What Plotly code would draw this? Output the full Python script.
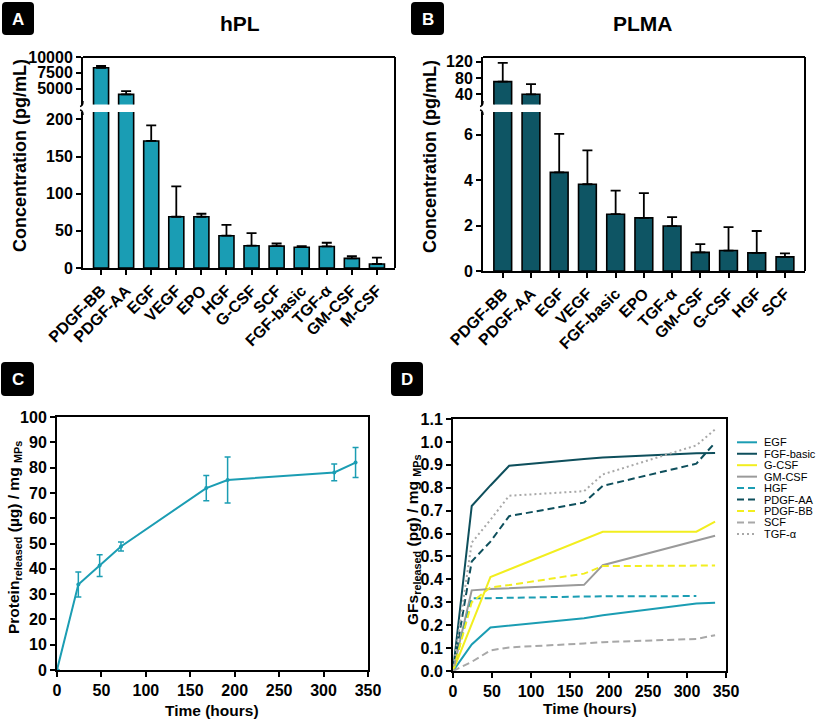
import plotly.graph_objects as go

W, H = 817, 720
def px(x): return x / W
def py(y): return 1 - y / H

FONT = "Arial, Liberation Sans, sans-serif"

# ---------------- data ----------------
hpl_names = ["PDGF-BB", "PDGF-AA", "EGF", "VEGF", "EPO", "HGF", "G-CSF", "SCF",
             "FGF-basic", "TGF-α", "GM-CSF", "M-CSF"]
hpl_vals = [8300, 4100, 171, 69, 69, 43.5, 30, 29.5, 28, 29, 13, 5.4]
hpl_err = [300, 500, 21, 41, 4, 14.5, 17, 3.5, 1.5, 5, 3, 8.6]
hpl_upper_ticks = [5000, 7500, 10000]
hpl_lower_ticks = [0, 50, 100, 150, 200]

plma_names = ["PDGF-BB", "PDGF-AA", "EGF", "VEGF", "FGF-basic", "EPO", "TGF-α",
              "GM-CSF", "G-CSF", "HGF", "SCF"]
plma_vals = [71, 40, 4.34, 3.82, 2.5, 2.34, 1.98, 0.82, 0.9, 0.8, 0.62]
plma_err = [46, 25, 1.7, 1.49, 1.04, 1.09, 0.39, 0.36, 1.03, 0.96, 0.16]
plma_upper_ticks = [40, 80, 120]
plma_lower_ticks = [0, 2, 4, 6]

prot_t = [0, 24, 48, 72, 168, 192, 312, 336]
prot_v = [0, 33.8, 41.3, 48.8, 71.9, 75.1, 78.1, 82.0]
prot_e = [0, 4.9, 4.3, 1.8, 5.0, 9.1, 3.3, 5.9]

gf_t = [0, 24, 48, 72, 168, 192, 312, 336]
gf_names = ["EGF", "FGF-basic", "G-CSF", "GM-CSF", "HGF", "PDGF-AA", "PDGF-BB", "SCF", "TGF-α"]
gf_EGF = [0, 0.116, 0.19, 0.198, 0.23, 0.243, 0.295, 0.298]
gf_FGF = [0, 0.72, 0.81, 0.896, 0.925, 0.932, 0.95, 0.952]
gf_GCSF = [0, 0.205, 0.41, 0.443, 0.575, 0.608, 0.608, 0.652]
gf_GMCSF = [0, 0.352, 0.358, 0.362, 0.376, 0.462, 0.57, 0.59]
gf_HGF = [0, 0.317, 0.318, 0.32, 0.325, 0.326, 0.327, None]
gf_PDGFAA = [0, 0.478, 0.565, 0.676, 0.735, 0.808, 0.905, 0.997]
gf_PDGFBB = [0, 0.3, 0.365, 0.375, 0.425, 0.458, 0.46, 0.46]
gf_SCF = [0, 0.04, 0.09, 0.103, 0.12, 0.126, 0.14, 0.156]
gf_TGFa = [0, 0.56, 0.66, 0.765, 0.785, 0.858, 0.985, 1.055]
gf_series = [gf_EGF, gf_FGF, gf_GCSF, gf_GMCSF, gf_HGF, gf_PDGFAA, gf_PDGFBB, gf_SCF, gf_TGFa]

TEAL = "#1B9DB3"
DARK = "#0E4F5C"
YEL = "#F2EE1F"
GRAY = "#9A9A9A"
LGRAY = "#A8A8A8"
gf_colors = [TEAL, DARK, YEL, GRAY, TEAL, DARK, YEL, LGRAY, LGRAY]
gf_dash = ["solid", "solid", "solid", "solid", "7px,4px", "7px,4px", "7px,4px", "7px,4px", "2px,3px"]

fig = go.Figure()

# ---------------- panel A ----------------
ia = list(range(len(hpl_names)))
for ya in ["y", "y2"]:
    fig.add_trace(go.Bar(x=ia, y=hpl_vals, xaxis="x", yaxis=ya, width=0.6,
                         marker=dict(color="#1A9DB4", line=dict(color="black", width=1.6)),
                         error_y=dict(type="data", array=hpl_err, arrayminus=[0]*len(ia),
                                      symmetric=False, color="black", thickness=1.8, width=5),
                         showlegend=False))
# ---------------- panel B ----------------
ib = list(range(len(plma_names)))
for yb in ["y3", "y4"]:
    fig.add_trace(go.Bar(x=ib, y=plma_vals, xaxis="x2", yaxis=yb, width=0.63,
                         marker=dict(color="#0E5564", line=dict(color="black", width=1.6)),
                         error_y=dict(type="data", array=plma_err, arrayminus=[0]*len(ib),
                                      symmetric=False, color="black", thickness=1.8, width=5),
                         showlegend=False))
# ---------------- panel C ----------------
fig.add_trace(go.Scatter(x=prot_t, y=prot_v, xaxis="x3", yaxis="y5", mode="lines+markers",
                         line=dict(color=TEAL, width=2), marker=dict(size=4, color=TEAL),
                         error_y=dict(type="data", array=prot_e, color=TEAL, thickness=1.5, width=3),
                         showlegend=False))
# ---------------- panel D ----------------
for name, ys, c, d in zip(gf_names, gf_series, gf_colors, gf_dash):
    fig.add_trace(go.Scatter(x=gf_t, y=ys, xaxis="x4", yaxis="y6", mode="lines", name=name,
                             line=dict(color=c, width=2, dash=d), showlegend=False))

tickfont = dict(family=FONT, size=16, color="black", weight="bold")
common = dict(showline=True, linecolor="black", linewidth=2, ticks="outside", ticklen=5,
              tickwidth=2, tickcolor="black", tickfont=tickfont, showgrid=False, zeroline=False,
              automargin=False)

fig.update_layout(
    width=W, height=H, margin=dict(l=0, r=0, t=0, b=0, pad=0, autoexpand=False),
    paper_bgcolor="white", plot_bgcolor="white", bargap=0.4, showlegend=False,
    xaxis=dict(domain=[px(83), px(395)], anchor="y", range=[-0.72, 11.72],
               tickvals=ia, ticktext=hpl_names, tickangle=-45, **common),
    yaxis=dict(domain=[py(268), py(112)], anchor="x", range=[0, 210],
               tickvals=hpl_lower_ticks, ticktext=[str(v) for v in hpl_lower_ticks], **common),
    yaxis2=dict(domain=[py(104.5), py(57)], anchor="x", range=[2500, 10000],
                tickvals=hpl_upper_ticks, ticktext=[str(v) for v in hpl_upper_ticks], **common),
    xaxis2=dict(domain=[px(483), px(805)], anchor="y3", range=[-0.7, 10.71],
                tickvals=ib, ticktext=plma_names, tickangle=-45, **common),
    yaxis3=dict(domain=[py(271), py(112)], anchor="x2", range=[0, 7],
                tickvals=plma_lower_ticks, **common),
    yaxis4=dict(domain=[py(104.5), py(57)], anchor="x2", range=[15, 131.5],
                tickvals=plma_upper_ticks, **common),
    xaxis3=dict(domain=[px(57), px(368)], anchor="y5", range=[0, 350], mirror=True,
                tickvals=list(range(0, 351, 50)), **common),
    yaxis5=dict(domain=[py(670), py(417)], anchor="x3", range=[0, 100], mirror=True,
                tickvals=list(range(0, 101, 10)), **common),
    xaxis4=dict(domain=[px(453), px(726)], anchor="y6", range=[0, 350], mirror=True,
                tickvals=list(range(0, 351, 50)), **common),
    yaxis6=dict(domain=[py(671), py(419)], anchor="x4", range=[0, 1.1], mirror=True,
                tickvals=[i / 10 for i in range(12)], tickformat=".1f", **common),
)

shapes = []
annots = []
def line(x0, y0, x1, y1, w=2, color="black", dash="solid"):
    shapes.append(dict(type="line", xref="paper", yref="paper", x0=px(x0), y0=py(y0),
                       x1=px(x1), y1=py(y1), line=dict(color=color, width=w, dash=dash)))
def text(x, y, s, size=16, bold=True, angle=0, color="black", xanchor="center"):
    annots.append(dict(x=px(x), y=py(y), xref="paper", yref="paper", text=s, showarrow=False,
                       textangle=angle, xanchor=xanchor, yanchor="middle",
                       font=dict(family=FONT, size=size, color=color,
                                 weight="bold" if bold else "normal")))

# frames A & B (top and right)
line(83, 57, 395, 57); line(395, 57, 395, 268)
line(483, 57, 805, 57); line(805, 57, 805, 271)
# break marks
for xl in (83, 483):
    shapes.append(dict(type="path", xref="paper", yref="paper",
                       path=f"M {px(xl)},{py(101)} Q {px(xl)},{py(106)} {px(xl-3)},{py(106.5)}",
                       line=dict(color="black", width=1.5)))
    shapes.append(dict(type="path", xref="paper", yref="paper",
                       path=f"M {px(xl-3)},{py(110)} Q {px(xl)},{py(110.5)} {px(xl)},{py(115)}",
                       line=dict(color="black", width=1.5)))

# panel letter boxes
def box(x0, y0, x1, y1, letter):
    r = 4
    p = (f"M {px(x0+r)},{py(y0)} L {px(x1-r)},{py(y0)} Q {px(x1)},{py(y0)} {px(x1)},{py(y0+r)} "
         f"L {px(x1)},{py(y1-r)} Q {px(x1)},{py(y1)} {px(x1-r)},{py(y1)} "
         f"L {px(x0+r)},{py(y1)} Q {px(x0)},{py(y1)} {px(x0)},{py(y1-r)} "
         f"L {px(x0)},{py(y0+r)} Q {px(x0)},{py(y0)} {px(x0+r)},{py(y0)} Z")
    shapes.append(dict(type="path", xref="paper", yref="paper", path=p,
                       fillcolor="black", line=dict(color="black", width=0)))
    text((x0 + x1) / 2, (y0 + y1) / 2 + 0.5, letter, size=17, color="white")
box(2, 2, 34, 35, "A")
box(411, 2, 444, 35, "B")
box(1, 362, 34, 396, "C")
box(391, 362, 423, 396, "D")

# titles
text(240, 23, "hPL", size=21)
text(643, 23, "PLMA", size=21)
text(20, 156, "Concentration (pg/mL)", size=18, angle=-90)
text(430, 157, "Concentration (pg/mL)", size=18, angle=-90)
text(14, 538, "Protein<sub>released</sub> (µg) / mg <sub>MPs</sub>", size=15.5, angle=-90)
text(413, 540, "GFs<sub>released</sub> (pg) / mg <sub>MPs</sub>", size=15.5, angle=-90)
text(212, 710, "Time (hours)", size=15.5)
text(590, 708, "Time (hours)", size=15.5)

# legend for panel D
for k, (name, c, d) in enumerate(zip(gf_names, gf_colors, gf_dash)):
    yy = 442.3 + k * 11.45
    line(737, yy, 757, yy, w=2, color=c, dash=d)
    text(762, yy, name, size=11, bold=False, xanchor="left")

fig.update_layout(shapes=shapes, annotations=annots)
fig.write_html("out.html", config={"displayModeBar": False},
               post_script="document.body.style.margin='0';document.body.style.overflow='hidden';")
